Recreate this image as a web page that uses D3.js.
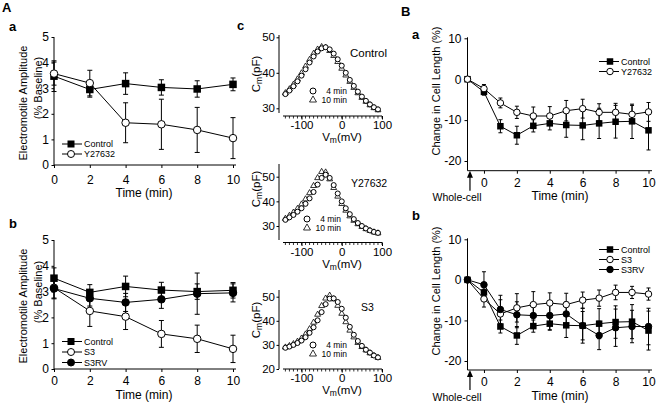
<!DOCTYPE html>
<html><head><meta charset="utf-8">
<script src="https://cdn.jsdelivr.net/npm/d3@7"></script>
<style>body{margin:0;background:#fff} svg{display:block}</style>
</head><body><svg id="c" width="656" height="404"></svg>
<script>
// ---------------- DATA ----------------
const timeA = [0, 2, 4, 6, 8, 10];
const aaControl = [3.47, 2.95, 3.18, 3.03, 2.97, 3.15];
const aaControlErr = [0.6, 0.3, 0.42, 0.3, 0.32, 0.25];
const aaY27632 = [3.57, 3.2, 1.65, 1.59, 1.37, 1.05];
const aaY27632Err = [0.45, 0.5, 0.78, 0.98, 0.88, 0.8];

const abControl = [3.52, 2.97, 3.2, 3.06, 3.0, 3.05];
const abControlErr = [0.4, 0.3, 0.4, 0.3, 0.3, 0.3];
const abS3 = [3.15, 2.25, 2.03, 1.36, 1.17, 0.78];
const abS3Err = [0.4, 0.6, 0.5, 0.52, 0.53, 0.53];
const abS3RV = [3.12, 2.74, 2.58, 2.7, 2.92, 2.95];
const abS3RVErr = [0.4, 0.3, 0.35, 0.35, 0.8, 0.35];

const timeB = [-1, 0, 1, 2, 3, 4, 5, 6, 7, 8, 9, 10];
const bControl = [0, -3.1, -11.5, -13.7, -11.4, -10.8, -11.2, -11.3, -10.8, -10.4, -10.3, -12.5];
const bControlErr = [0, 0.8, 1.6, 2.2, 1.5, 1.6, 3.0, 3.5, 3.7, 4.0, 4.2, 4.8];
const baY27632 = [0, -2.3, -5.8, -8.1, -9.0, -9.0, -7.7, -7.2, -8.1, -8.1, -8.6, -8.0];
const baY27632Err = [0, 1.0, 1.2, 1.5, 2.2, 2.3, 2.5, 2.3, 2.1, 2.2, 2.2, 2.3];
const bbS3 = [0, -4.7, -8.4, -6.9, -6.1, -5.7, -6.1, -5.0, -4.5, -3.1, -3.1, -3.5];
const bbS3Err = [0, 2.0, 3.5, 3.5, 3.2, 2.5, 2.8, 2.0, 2.0, 1.8, 1.5, 1.5];
const bbS3RV = [0, -1.2, -7.3, -8.6, -8.8, -8.8, -8.4, -11.3, -13.7, -11.8, -11.5, -11.5];
const bbS3RVErr = [0, 3.2, 3.5, 3.2, 3.0, 3.5, 3.0, 4.3, 3.5, 4.6, 4.0, 4.5];

const voltageC = [-140, -130, -120, -110, -100, -90, -80, -70, -60, -50, -40, -30, -20, -10, 0, 10, 20, 30, 40, 50, 60, 70, 80, 90];
const cmControl4 = [34.0, 35.0, 36.2, 37.6, 39.2, 41.0, 42.9, 44.6, 46.0, 46.9, 47.2, 46.6, 45.4, 43.8, 42.0, 40.0, 38.0, 36.3, 34.7, 33.3, 32.1, 31.1, 30.3, 29.7];
const cmControl10 = [34.3, 35.4, 36.7, 38.2, 39.9, 41.8, 43.7, 45.4, 46.6, 47.3, 47.1, 46.2, 44.8, 43.1, 41.2, 39.3, 37.5, 35.8, 34.3, 33.0, 31.9, 30.9, 30.1, 29.5];
const cmY4 = [32.5, 33.5, 34.5, 35.8, 37.2, 39.0, 41.2, 43.8, 46.8, 49.5, 50.8, 49.5, 46.6, 43.2, 40.0, 37.2, 34.8, 32.8, 31.2, 30.0, 29.0, 28.2, 27.6, 27.2];
const cmY10 = [33.0, 34.2, 35.5, 37.0, 38.8, 40.9, 43.4, 46.3, 49.5, 52.0, 51.8, 49.0, 45.5, 42.0, 39.0, 36.3, 34.0, 32.2, 30.8, 29.7, 28.8, 28.1, 27.5, 27.1];
const cmS3_4 = [28.8, 29.3, 30.0, 30.8, 31.8, 33.2, 35.0, 37.3, 40.2, 43.6, 46.9, 49.2, 49.3, 47.8, 45.0, 41.3, 37.5, 34.2, 31.6, 29.6, 28.0, 26.8, 25.6, 24.8];
const cmS3_10 = [29.0, 29.6, 30.4, 31.4, 32.7, 34.4, 36.6, 39.3, 42.6, 46.2, 49.3, 50.5, 49.0, 46.3, 43.0, 39.5, 36.0, 33.2, 30.9, 29.2, 27.8, 26.6, 25.5, 24.7];

const ticksAX = [0, 2, 4, 6, 8, 10];
const ticksAY = [0, 1, 2, 3, 4, 5];
const ticksBX = [0, 2, 4, 6, 8, 10];
const ticksBY = [-20, -10, 0, 10];
const ticksCX = [-100, 0, 100];
const minorCX = [-140, -130, -120, -110, -100, -90, -80, -70, -60, -50, -40, -30, -20, -10, 0, 10, 20, 30, 40, 50, 60, 70, 80, 90, 100];
const ticksCY = [30, 40, 50];
const ticksCY3 = [20, 30, 40, 50];

// ---------------- HELPERS ----------------
const FONT = "'Liberation Sans', Arial, Helvetica, sans-serif";
const fmtInt = d => String(d);
const svg = d3.select("#c");
svg.append("rect").attr("width", 656).attr("height", 404).attr("fill", "#fff");

function txt(x, y, s, o = {}) {
  const t = svg.append("text").attr("x", x).attr("y", y).text(s)
    .attr("font-family", FONT).attr("font-size", o.fs || 12).attr("fill", "#000")
    .attr("text-anchor", o.anchor || "start").attr("dy", o.dy === undefined ? "0.35em" : o.dy);
  if (o.bold) t.attr("font-weight", "bold");
  if (o.rot) t.attr("transform", `rotate(-90,${x},${y})`);
  return t;
}

function axisLeft(xPos, y, ticks, y0, y1, fs, ts, pad) {
  const g = svg.append("g").attr("transform", `translate(${xPos},0)`)
    .call(d3.axisLeft(y).tickValues(ticks).tickSize(ts).tickPadding(pad).tickSizeOuter(0).tickFormat(fmtInt));
  g.select(".domain").remove();
  g.append("line").attr("y1", y0).attr("y2", y1).attr("stroke", "#000");
  g.attr("font-family", FONT).attr("font-size", fs);
  g.selectAll("text").attr("fill", "#000");
  return g;
}
function axisBottom(yPos, x, ticks, x0, x1, fs, ts, off) {
  const ax = d3.axisBottom(x).tickValues(ticks).tickSize(ts).tickSizeOuter(0).tickFormat(fmtInt);
  const g = svg.append("g").attr("transform", `translate(0,${yPos})`).call(ax);
  g.select(".domain").remove();
  g.append("line").attr("x1", x0).attr("x2", x1).attr("stroke", "#000");
  g.attr("font-family", FONT).attr("font-size", fs);
  g.selectAll("text").attr("fill", "#000").attr("y", off).attr("dy", "0.35em");
  return g;
}

function marker(g, type, cx, cy, sz) {
  if (type === "square") {
    g.append("rect").attr("x", cx - sz / 2).attr("y", cy - sz / 2).attr("width", sz).attr("height", sz).attr("fill", "#000");
  } else if (type === "open" || type === "filled") {
    g.append("circle").attr("cx", cx).attr("cy", cy).attr("r", sz / 2)
      .attr("fill", type === "open" ? "#fff" : "#000").attr("stroke", "#000").attr("stroke-width", 1);
  } else if (type === "tri") {
    g.append("path").attr("d", d3.symbol(d3.symbolTriangle, sz * sz * 0.5)())
      .attr("transform", `translate(${cx},${cy})`).attr("fill", "#fff").attr("stroke", "#000").attr("stroke-width", 0.8);
  }
}

function plotSeries(x, y, t, series, sz, cap) {
  const g = svg.append("g");
  series.forEach(s => {
    const line = d3.line().x((d, i) => x(t[i])).y(d => y(d));
    g.append("path").attr("d", line(s.v)).attr("fill", "none").attr("stroke", "#000").attr("stroke-width", 1);
    s.v.forEach((d, i) => {
      if (!s.e[i]) return;
      const cx = x(t[i]), ya = y(d + s.e[i]), yb = y(d - s.e[i]);
      g.append("line").attr("x1", cx).attr("x2", cx).attr("y1", ya).attr("y2", yb).attr("stroke", "#000");
      [ya, yb].forEach(yy => g.append("line").attr("x1", cx - cap).attr("x2", cx + cap).attr("y1", yy).attr("y2", yy).attr("stroke", "#000"));
    });
  });
  series.forEach(s => s.v.forEach((d, i) => marker(g, s.type, x(t[i]), y(d), sz)));
}

function legend(items, x0, x1, mx, tx, ys, fs, sz) {
  const g = svg.append("g");
  items.forEach((it, i) => {
    g.append("line").attr("x1", x0).attr("x2", x1).attr("y1", ys[i]).attr("y2", ys[i]).attr("stroke", "#000");
    marker(g, it.type, mx, ys[i], sz);
    g.append("text").attr("x", tx).attr("y", ys[i]).attr("dy", "0.35em").text(it.label)
      .attr("font-family", FONT).attr("font-size", fs);
  });
}

// ---------------- PANEL LETTERS ----------------
txt(2, 12, "A", { fs: 13, bold: true, dy: 0 });
txt(9, 31, "a", { fs: 13, bold: true, dy: 0 });
txt(9, 228, "b", { fs: 13, bold: true, dy: 0 });
txt(237, 30, "c", { fs: 13, bold: true, dy: 0 });
txt(401, 16, "B", { fs: 13, bold: true, dy: 0 });
txt(412, 39, "a", { fs: 13, bold: true, dy: 0 });
txt(412, 220, "b", { fs: 13, bold: true, dy: 0 });

// ---------------- PANEL A a ----------------
{
  const x = d3.scaleLinear().domain([0, 10]).range([54, 233]);
  const y = d3.scaleLinear().domain([0, 5]).range([165, 37]);
  axisLeft(54, y, ticksAY, 37, 165, 12, 2.5, 2.5);
  axisBottom(165, x, ticksAX, 54, 236, 12, 3, 15);
  txt(144, 193, "Time (min)", { anchor: "middle", fs: 12 });
  txt(23, 103, "Electromotile Amplitude", { anchor: "middle", fs: 11, rot: true });
  txt(38.5, 88, "(% Baseline)", { anchor: "middle", fs: 11, rot: true });
  plotSeries(x, y, timeA, [
    { v: aaControl, e: aaControlErr, type: "square" },
    { v: aaY27632, e: aaY27632Err, type: "open" }
  ], 7.5, 2.5);
  legend([{ type: "square", label: "Control" }, { type: "open", label: "Y27632" }], 62, 82, 71, 84, [144, 154], 9, 7);
}

// ---------------- PANEL A b ----------------
{
  const x = d3.scaleLinear().domain([0, 10]).range([54, 233]);
  const y = d3.scaleLinear().domain([0, 5]).range([369, 240]);
  axisLeft(54, y, ticksAY, 240, 369, 12, 2.5, 2.5);
  axisBottom(369, x, ticksAX, 54, 236, 12, 3, 12);
  txt(144, 395, "Time (min)", { anchor: "middle", fs: 12 });
  txt(23, 306, "Electromotile Amplitude", { anchor: "middle", fs: 11, rot: true });
  txt(38.5, 292, "(% Baseline)", { anchor: "middle", fs: 11, rot: true });
  plotSeries(x, y, timeA, [
    { v: abControl, e: abControlErr, type: "square" },
    { v: abS3, e: abS3Err, type: "open" },
    { v: abS3RV, e: abS3RVErr, type: "filled" }
  ], 7.5, 2.5);
  legend([{ type: "square", label: "Control" }, { type: "open", label: "S3" }, { type: "filled", label: "S3RV" }],
    62, 82, 71, 84, [341.5, 352, 362.5], 9, 7);
}

// ---------------- PANEL C ----------------
function cmPanel(cfg) {
  const x = d3.scaleLinear().domain([-100, 100]).range([301.5, 382]);
  const y = d3.scaleLinear().domain(cfg.yd).range(cfg.yr);
  axisLeft(279, y, cfg.yt, cfg.ya[0], cfg.ya[1], 11.5, 2.5, 1.5);
  const gm = svg.append("g").attr("transform", `translate(0,${cfg.xa})`);
  minorCX.forEach(v => gm.append("line").attr("x1", x(v)).attr("x2", x(v)).attr("y1", 0).attr("y2", 2.5).attr("stroke", "#000").attr("stroke-width", 0.8));
  axisBottom(cfg.xa, x, ticksCX, 283, 382, 11.5, 3.5, 9);
  const tx = svg.append("text").attr("x", 342).attr("y", cfg.xa + 21).attr("dy", "0.35em")
    .attr("text-anchor", "middle").attr("font-family", FONT).attr("font-size", 11.5);
  tx.append("tspan").text("V");
  tx.append("tspan").text("m").attr("font-size", 8.5).attr("dy", 2);
  tx.append("tspan").text("(mV)").attr("dy", -2);
  const ty = svg.append("text").attr("x", 256).attr("y", cfg.yc).attr("dy", "0.35em")
    .attr("text-anchor", "middle").attr("font-family", FONT).attr("font-size", 11.5)
    .attr("transform", `rotate(-90,256,${cfg.yc})`);
  ty.append("tspan").text("C");
  ty.append("tspan").text("m").attr("font-size", 8.5).attr("dy", 2);
  ty.append("tspan").text("(pF)").attr("dy", -2);
  const g = svg.append("g");
  cfg.v10.forEach((d, i) => marker(g, "tri", x(voltageC[i]), y(d), 5.5));
  cfg.v4.forEach((d, i) => marker(g, "open", x(voltageC[i]), y(d), 5));
  txt(cfg.lx, cfg.ly, cfg.label, { fs: cfg.lfs });
  const lg = svg.append("g");
  marker(lg, "open", cfg.legx, cfg.legy, 6);
  marker(lg, "tri", cfg.legx, cfg.legy + 9, 6.5);
  txt(cfg.legx + 34, cfg.legy + 0.3, "4 min", { fs: 8.5, anchor: "end" });
  txt(cfg.legx + 34, cfg.legy + 9.5, "10 min", { fs: 8.5, anchor: "end" });
}
cmPanel({ yd: [30, 50], yr: [108.3, 37.3], yt: ticksCY, ya: [35, 113], xa: 116, yc: 74,
  v4: cmControl4, v10: cmControl10, label: "Control", lx: 350, ly: 53, lfs: 11.5, legx: 313, legy: 91 });
cmPanel({ yd: [30, 50], yr: [226, 176.7], yt: ticksCY, ya: [164, 240], xa: 242.5, yc: 189,
  v4: cmY4, v10: cmY10, label: "Y27632", lx: 351, ly: 183, lfs: 10.5, legx: 307, legy: 219 });
cmPanel({ yd: [20, 50], yr: [369, 296.7], yt: ticksCY3, ya: [290, 369], xa: 369, yc: 320,
  v4: cmS3_4, v10: cmS3_10, label: "S3", lx: 361, ly: 307, lfs: 10.5, legx: 313, legy: 345 });

// ---------------- PANEL B ----------------
function bPanel(cfg) {
  const x = d3.scaleLinear().domain([-1, 10]).range([467.5, 648.5]);
  const y = d3.scaleLinear().domain([-20, 10]).range(cfg.yr);
  axisLeft(467.5, y, ticksBY, cfg.yr[1] - 1, cfg.xa, 12, 3, 3);
  axisBottom(cfg.xa, x, ticksBX, 467.5, 652, 12, 3, 12);
  txt(560, cfg.xa + 25.5, "Time (min)", { anchor: "middle", fs: 12 });
  txt(436, cfg.yc, "Change in Cell Length (%)", { anchor: "middle", fs: 11, rot: true });
  const ax = x(-0.85);
  svg.append("line").attr("x1", ax).attr("x2", ax).attr("y1", cfg.xa + 20).attr("y2", cfg.xa + 4).attr("stroke", "#000").attr("stroke-width", 1.2);
  svg.append("path").attr("d", `M${ax - 3},${cfg.xa + 7}L${ax},${cfg.xa}L${ax + 3},${cfg.xa + 7}Z`).attr("fill", "#000");
  txt(457, cfg.xa + 27, "Whole-cell", { anchor: "middle", fs: 10.5 });
  plotSeries(x, y, timeB, cfg.series, 6.5, 2);
  legend(cfg.leg, 599, 619, 610, 621, cfg.legy, 9, 6.5);
}
bPanel({ yr: [161, 38.3], xa: 170.7, yc: 91,
  series: [{ v: bControl, e: bControlErr, type: "square" }, { v: baY27632, e: baY27632Err, type: "open" }],
  leg: [{ type: "square", label: "Control" }, { type: "open", label: "Y27632" }], legy: [61.5, 71.5] });
bPanel({ yr: [361, 239.3], xa: 370, yc: 291,
  series: [{ v: bControl, e: bControlErr, type: "square" }, { v: bbS3, e: bbS3Err, type: "open" }, { v: bbS3RV, e: bbS3RVErr, type: "filled" }],
  leg: [{ type: "square", label: "Control" }, { type: "open", label: "S3" }, { type: "filled", label: "S3RV" }], legy: [249.5, 259.5, 269.5] });
</script>
</body></html>
